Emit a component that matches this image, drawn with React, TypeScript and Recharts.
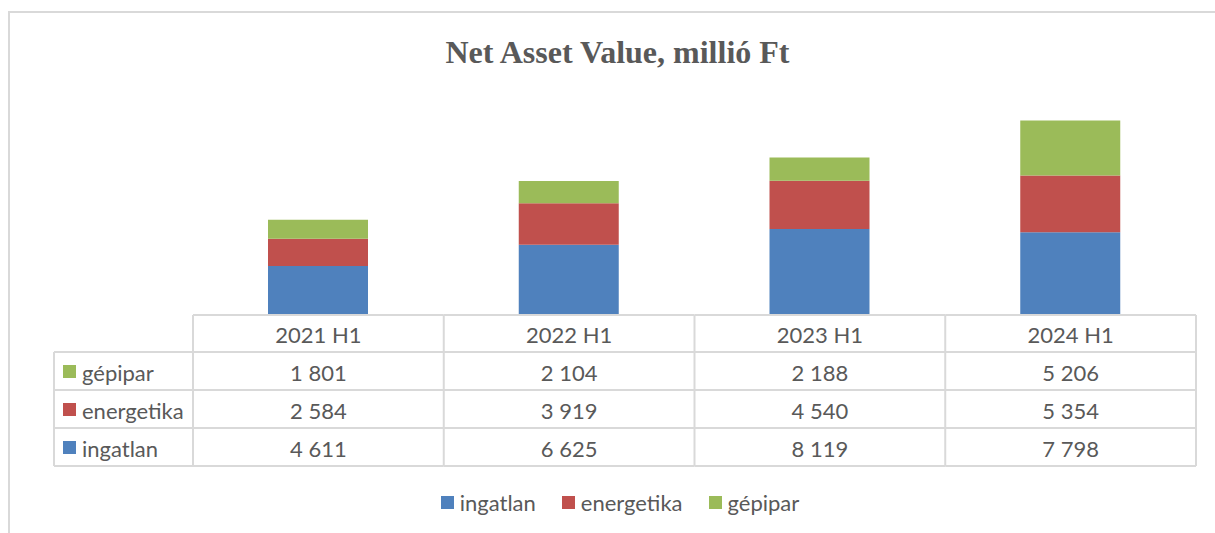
import React from 'react'
import { BarChart, Bar, XAxis, YAxis } from 'recharts'

const categories = ['2021 H1', '2022 H1', '2023 H1', '2024 H1']
const ingatlan = [4611, 6625, 8119, 7798]
const energetika = [2584, 3919, 4540, 5354]
const gepipar = [1801, 2104, 2188, 5206]
const seriesKeys = ['ingatlan', 'energetika', 'gepipar']
const seriesNames = ['ingatlan', 'energetika', 'gépipar']
const seriesColors = ['#4f81bd', '#c0504d', '#9bbb59']
const seriesValues = [ingatlan, energetika, gepipar]
// table rows are listed top-down, the stack goes bottom-up
const tableOrder = [2, 1, 0]

const data = categories.map((c, i) => ({
  name: c,
  ingatlan: ingatlan[i],
  energetika: energetika[i],
  gepipar: gepipar[i],
}))

const W = 1215
const H = 533
const headerH = 37
const rowH = 38
const tableH = headerH + rowH * 3
const margin = { top: 103, right: 19, left: 193, bottom: 218 - tableH }
const bandW = (W - margin.left - margin.right) / categories.length
const labelLeft = 54
const gridColor = '#d9d9d9'
const textColor = '#595959'
const font = 'Lato, "Liberation Sans", sans-serif'
const fs = 22

const fmt = (v: number) => String(v).replace(/\B(?=(\d{3})+(?!\d))/g, ' ')

function TableTick(props: any) {
  const { x, y, index, payload } = props
  const left = x - bandW / 2
  const right = x + bandW / 2
  const bottom = y + tableH
  const lines: React.ReactNode[] = []
  lines.push(<line key="t" x1={left} x2={right} y1={y} y2={y} />)
  for (let r = 0; r <= 3; r++) {
    const ly = y + headerH + rowH * r
    lines.push(<line key={'h' + r} x1={left} x2={right} y1={ly} y2={ly} />)
  }
  lines.push(<line key="r" x1={right} x2={right} y1={y} y2={bottom} />)
  if (index === 0) {
    lines.push(<line key="l" x1={left} x2={left} y1={y} y2={bottom} />)
    lines.push(<line key="ll" x1={labelLeft} x2={labelLeft} y1={y + headerH} y2={bottom} />)
    for (let r = 0; r <= 3; r++) {
      const ly = y + headerH + rowH * r
      lines.push(<line key={'lh' + r} x1={labelLeft} x2={left} y1={ly} y2={ly} />)
    }
  }
  return (
    <g>
      <g stroke={gridColor} strokeWidth={2}>{lines}</g>
      <text x={x} y={y + headerH / 2 + 1} textAnchor="middle" dominantBaseline="central"
        fontSize={fs} fill={textColor} fontFamily={font}>{payload.value}</text>
      {tableOrder.map((s, r) => (
        <text key={s} x={x} y={y + headerH + rowH * r + rowH / 2 + 1} textAnchor="middle"
          dominantBaseline="central" fontSize={fs} fill={textColor} fontFamily={font}>
          {fmt(seriesValues[s][index])}
        </text>
      ))}
      {index === 0 && tableOrder.map((s, r) => {
        const cy = y + headerH + rowH * r + rowH / 2
        return (
          <g key={'lab' + s}>
            <rect x={labelLeft + 9} y={cy - 6} width={13} height={13} fill={seriesColors[s]} />
            <text x={labelLeft + 28} y={cy + 1} dominantBaseline="central" fontSize={fs}
              fill={textColor} fontFamily={font}>{seriesNames[s]}</text>
          </g>
        )
      })}
    </g>
  )
}

export default function App() {
  return (
    <div style={{ position: 'absolute', left: 0, top: 0, width: W, height: H, overflow: 'hidden', background: '#fff' }}>
      <div style={{
        position: 'absolute', left: 8, top: 11, width: W + 20, height: H + 20,
        border: `2px solid ${gridColor}`,
      }} />
      <div style={{
        position: 'absolute', left: 0, top: 33, width: W + 20, textAlign: 'center',
        fontFamily: '"Liberation Serif", "Times New Roman", serif', fontWeight: 'bold',
        fontSize: 32, lineHeight: '38px', color: textColor,
      }}>
        Net Asset Value, millió Ft
      </div>
      <div style={{ position: 'absolute', left: 0, top: 0 }}>
        <BarChart width={W} height={H} data={data} margin={margin}>
          <YAxis hide domain={[0, 20000]} />
          <XAxis dataKey="name" axisLine={false} tickLine={false} tickSize={0} tickMargin={0}
            interval={0} height={tableH} tick={<TableTick />} />
          {seriesKeys.map((k, i) => (
            <Bar key={k} dataKey={k} stackId="a" fill={seriesColors[i]} barSize={100}
              isAnimationActive={false} />
          ))}
        </BarChart>
      </div>
      <div style={{
        position: 'absolute', left: 0, top: 489, width: 1240, display: 'flex',
        justifyContent: 'center', fontFamily: font, fontSize: fs, color: textColor,
      }}>
        {seriesNames.map((n, i) => (
          <div key={n} style={{ display: 'flex', alignItems: 'center', margin: '0 13px' }}>
            <span style={{ width: 13, height: 13, background: seriesColors[i], marginRight: 6 }} />
            <span>{n}</span>
          </div>
        ))}
      </div>
    </div>
  )
}
